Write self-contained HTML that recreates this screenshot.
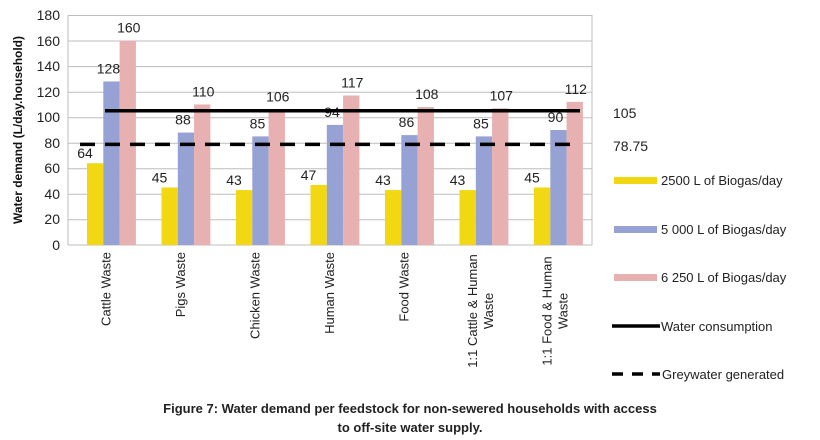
<!DOCTYPE html>
<html><head><meta charset="utf-8"><style>
html,body{margin:0;padding:0;background:#fff;}
svg{display:block;font-family:"Liberation Sans",sans-serif;}
</style></head><body>
<svg width="820" height="440" viewBox="0 0 820 440" xmlns="http://www.w3.org/2000/svg">
<g stroke="#bdbdbd" stroke-width="1">
<line x1="68" y1="15.5" x2="592" y2="15.5"/>
<line x1="68" y1="41" x2="592" y2="41"/>
<line x1="68" y1="66.6" x2="592" y2="66.6"/>
<line x1="68" y1="92.2" x2="592" y2="92.2"/>
<line x1="68" y1="117.7" x2="592" y2="117.7"/>
<line x1="68" y1="143.2" x2="592" y2="143.2"/>
<line x1="68" y1="168.7" x2="592" y2="168.7"/>
<line x1="68" y1="194.3" x2="592" y2="194.3"/>
<line x1="68" y1="219.8" x2="592" y2="219.8"/>
<line x1="68" y1="245" x2="592" y2="245"/>
<line x1="68" y1="15" x2="68" y2="245"/>
<line x1="592" y1="15" x2="592" y2="245"/>
</g>
<g font-size="14" fill="#222" text-anchor="end">
<text x="60" y="20">180</text><text x="60" y="46">160</text><text x="60" y="71">140</text><text x="60" y="97">120</text><text x="60" y="122">100</text><text x="60" y="148">80</text><text x="60" y="173">60</text><text x="60" y="199">40</text><text x="60" y="224">20</text><text x="60" y="250">0</text>
</g>
<text transform="translate(22,130) rotate(-90)" text-anchor="middle" font-size="12" font-weight="bold" fill="#111">Water demand (L/day.household)</text>
<g id="bars"></g>
<line x1="105" y1="110.8" x2="580" y2="110.8" stroke="#000" stroke-width="3.5"/>
<line x1="80" y1="144.4" x2="580" y2="144.4" stroke="#000" stroke-width="3.5" stroke-dasharray="15,10"/>
<g font-size="14" fill="#222">
<text x="613" y="118">105</text>
<text x="613" y="151">78.75</text>
</g>
<g font-size="13" fill="#222">
<rect x="614" y="177" width="43" height="7" fill="#f2d813"/><text x="661" y="185">2500 L of Biogas/day</text>
<rect x="614" y="226" width="43" height="7" fill="#97a2d4"/><text x="661" y="234">5 000 L of Biogas/day</text>
<rect x="614" y="274" width="43" height="7" fill="#e6b1b0"/><text x="661" y="282">6 250 L of Biogas/day</text>
<line x1="612" y1="326" x2="660" y2="326" stroke="#000" stroke-width="3.5"/><text x="661" y="331">Water consumption</text>
<line x1="612" y1="374" x2="660" y2="374" stroke="#000" stroke-width="3.5" stroke-dasharray="11,9"/><text x="662" y="379">Greywater generated</text>
</g>
<g font-size="13" font-weight="bold" fill="#222" text-anchor="middle">
<text x="410" y="413">Figure 7: Water demand per feedstock for non-sewered households with access</text>
<text x="410" y="432">to off-site water supply.</text>
</g>
<g id="xl" font-size="13" fill="#222"></g>
<script>
var y=[64,45,43,47,43,43,45],b=[128,88,85,94,86,85,90],p=[160,110,106,117,108,107,112];
var names=[["Cattle Waste"],["Pigs Waste"],["Chicken Waste"],["Human Waste"],["Food Waste"],["1:1 Cattle & Human","Waste"],["1:1 Food & Human","Waste"]];
var ns="http://www.w3.org/2000/svg",g=document.getElementById("bars"),xl=document.getElementById("xl");
function el(t,a,par,txt){var e=document.createElementNS(ns,t);for(var k in a)e.setAttribute(k,a[k]);if(txt!=null)e.textContent=txt;par.appendChild(e);return e;}
var sc=230/180,bw=16.3;
for(var i=0;i<7;i++){
 var x0=87+74.5*i;
 [[y,"#f2d813"],[b,"#97a2d4"],[p,"#e6b1b0"]].forEach(function(s,j){
  var v=s[0][i],h=v*sc,x=x0+j*bw;
  el("rect",{x:x,y:245-h,width:bw,height:h,fill:s[1]},g);
  var lx=j==0?x-2:x+bw/2+ (j==1?-3:1);
  el("text",{x:lx,y:245-h-(j==0?5:8),"font-size":14,fill:"#222","text-anchor":"middle"},g,String(v));
 });
 var cx=x0+bw*1.5;
 var L=names[i];
 if(L.length==1){el("text",{transform:"translate("+(cx-1)+",252) rotate(-90)","text-anchor":"end"},xl,L[0]);}
 else{el("text",{transform:"translate("+(cx-7)+",311) rotate(-90)","text-anchor":"middle"},xl,L[0]);
  el("text",{transform:"translate("+(cx+9)+",311) rotate(-90)","text-anchor":"middle"},xl,L[1]);}
}
</script>
</svg>
</body></html>
